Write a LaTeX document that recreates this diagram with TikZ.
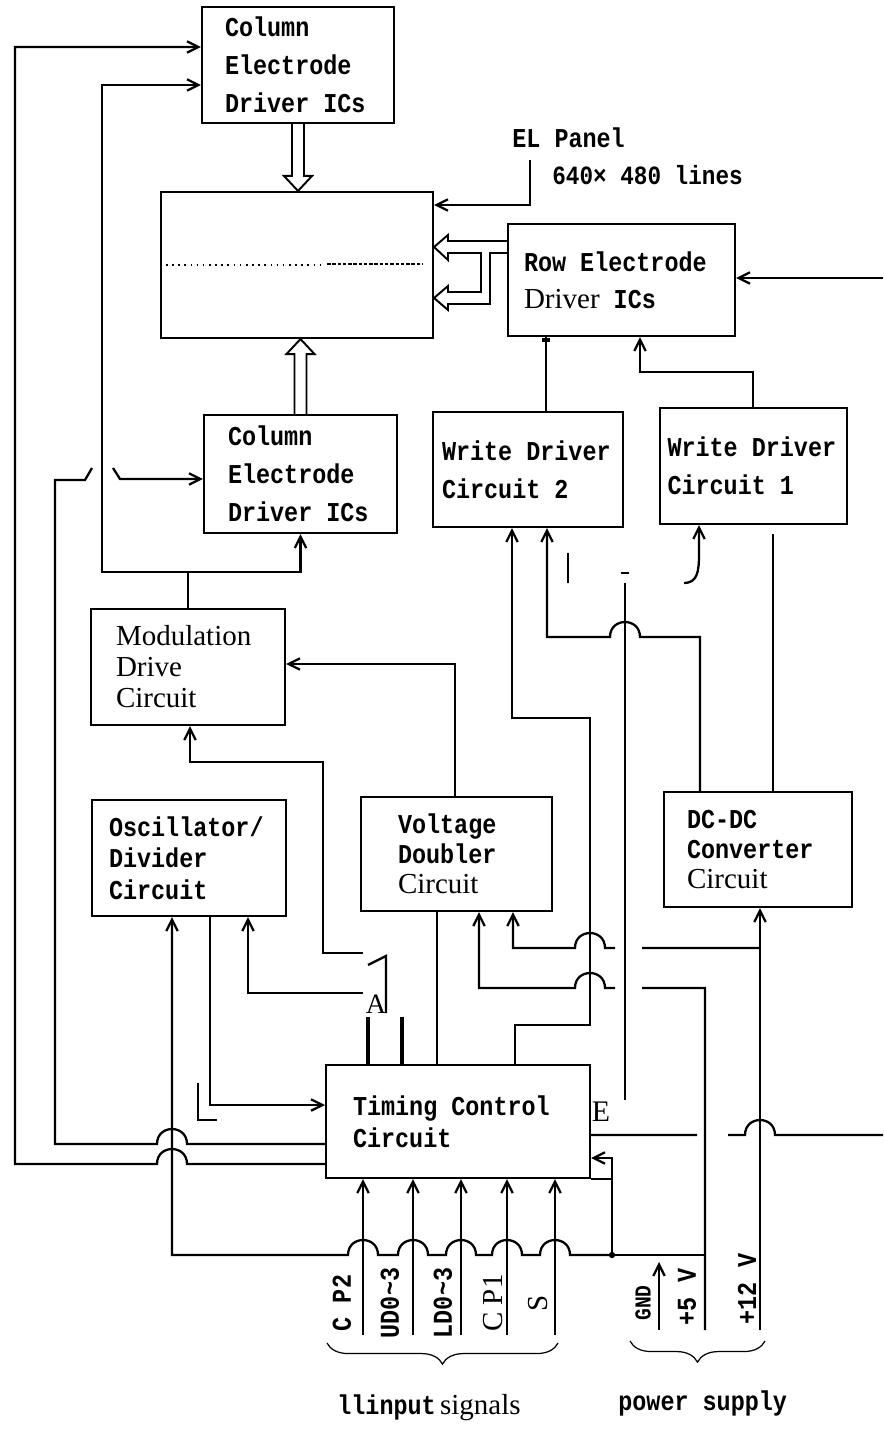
\documentclass[tikz,border=0pt]{standalone}
\usepackage{fontspec}
\setmainfont{Liberation Serif}
\newfontfamily\boxfont{Liberation Mono}[FakeStretch=0.86]
\usetikzlibrary{arrows.meta,calc,decorations.pathreplacing}

\newcommand{\serifpart}{\rmfamily\mdseries\fontsize{16.5}{17.6}\selectfont}
% full-width space of the box font
\newcommand{\msp}{\nobreak\hspace{0.516em}}
% hop over a vertical wire, for a wire running to the left
\newcommand{\hopleft}[2]{-- ({#1+15},#2) .. controls ({#1+15},{#2-20}) and ({#1-15},{#2-20}) .. ({#1-15},#2)}

\begin{document}
\begin{tikzpicture}[x=0.02cm, y=-0.02cm, >={Straight Barb[length=6.5pt,width=6.5pt]},
    box/.style={draw, line width=1.2pt, inner sep=0pt, align=left, font=\boxfont\bfseries\fontsize{15.5}{21.5}\selectfont},
    conn/.style={line width=1.3pt},
    fine/.style={line width=0.7pt},
    stub/.style={line width=2.2pt},
    hollow/.style={line width=1.1pt, line join=miter},
    lbl/.style={font=\boxfont\bfseries\fontsize{15.5}{17}\selectfont, inner sep=0pt}]

\useasboundingbox (0,0) rectangle (883,1429);

% blocks
\node (colT) [box, minimum width=3.84cm, minimum height=2.32cm, text width=2.92cm] at (298,65) {Column\\Electrode\\Driver\msp ICs};
\node (panel) [box, minimum width=5.44cm, minimum height=2.92cm] at (297,265) {};
\node (row) [box, minimum width=4.54cm, minimum height=2.24cm, text width=3.9cm, font=\boxfont\bfseries\fontsize{15.5}{21}\selectfont] at (621.5,280) {Row\msp Electrode\\{\serifpart Driver}\msp ICs};
\node (colB) [box, minimum width=3.86cm, minimum height=2.36cm, text width=2.9cm] at (300.5,474) {Column\\Electrode\\Driver\msp ICs};
\node (wd2) [box, minimum width=3.8cm, minimum height=2.3cm, text width=3.44cm] at (528,469.5) {Write\msp Driver\\Circuit\msp 2};
\node (wd1) [box, minimum width=3.74cm, minimum height=2.32cm, text width=3.44cm] at (753.5,466) {Write\msp Driver\\Circuit\msp 1};
\node (mod) [box, minimum width=3.88cm, minimum height=2.32cm, text width=2.88cm, font=\serifpart] at (188,667) {Modulation\\Drive\\Circuit};
\node (osc) [box, minimum width=3.88cm, minimum height=2.32cm, text width=3.2cm, font=\boxfont\bfseries\fontsize{15.5}{18}\selectfont] at (189,858) {Oscillator/\\Divider\\Circuit};
\node (vd) [box, minimum width=3.82cm, minimum height=2.28cm, text width=2.34cm, font=\boxfont\bfseries\fontsize{15.5}{17}\selectfont] at (456.5,854) {Voltage\\Doubler\\{\serifpart Circuit}};
\node (dc) [box, minimum width=3.76cm, minimum height=2.3cm, text width=2.84cm, font=\boxfont\bfseries\fontsize{15.5}{17}\selectfont] at (758,849.5) {DC-DC\\Converter\\{\serifpart Circuit}};
\node (tim) [box, minimum width=5.28cm, minimum height=2.26cm, text width=4.2cm, font=\boxfont\bfseries\fontsize{15.5}{18}\selectfont] at (458,1121.5) {Timing\msp Control\\Circuit};

% lines on the panel
\draw[line width=0.9pt, dash pattern=on 0.9pt off 2.6pt] (166,265) -- (320,265);
\draw[line width=0.7pt, dash pattern=on 2pt off 1pt] (327,264) -- (423,264);

% panel label
\node (elp) [lbl, anchor=west] at (512,138) {EL Panel};
\node (elsize) [lbl, anchor=west, font=\boxfont\bfseries\fontsize{15}{16}\selectfont] at (552,175) {640× 480 lines};
\coordinate (elpin) at (530,160);
\draw[conn,->] (elpin) -- (530,205) -- (panel.east |- 0,205);

% hollow arrows into the panel
\coordinate (tipT) at (colT.south |- panel.north);
\coordinate (tipB) at (colB.north |- panel.south);
\draw[hollow] ($(colT.south)+(-6,0)$) -- ($(tipT)+(-6,-15)$) -- ($(tipT)+(-14,-15)$) -- (tipT)
    -- ($(tipT)+(14,-15)$) -- ($(tipT)+(6,-15)$) -- ($(colT.south)+(6,0)$);
\draw[hollow] ($(colB.north)+(-6,0)$) -- ($(tipB)+(-6,15)$) -- ($(tipB)+(-14,15)$) -- (tipB)
    -- ($(tipB)+(14,15)$) -- ($(tipB)+(6,15)$) -- ($(colB.north)+(6,0)$);
\draw[hollow] (row.west |- 0,241) -- (448,241) -- (448,235) -- (panel.east |- 0,247) -- (448,260) -- (448,253)
    -- (481,253) -- (481,292) -- (448,292) -- (448,286) -- (panel.east |- 0,298) -- (448,310) -- (448,304)
    -- (490,304) -- (490,253) -- (row.west |- 0,253);

% column driver inputs
\draw[conn,->] (tim.west |- 0,1164) \hopleft{172}{1164} -- (15,1164) -- (15,47) -- (colT.west |- 0,47);
\draw[conn,->] (tim.west |- 0,1144) \hopleft{172}{1144} -- (55,1144) -- (55,480) -- (85,480) -- (92,468)
    (113,468) -- (120,479) -- (colB.west |- 0,479);
\draw[conn] (mod.north) -- (188,572) coordinate (split);
\draw[conn,->] (split) -| (colB.south);
\draw[conn,->] (split) -- (102,572) -- (102,85) -- (colT.west |- 0,85);

% row driver inputs
\coordinate (rin) at (883,278);
\draw[conn,->] (rin) -- (row.east |- rin);
\draw[fine] (wd2.north -| 546,0) -- (row.south -| 546,0);
\draw[line width=2pt] (542,340) -- (550,340);
\draw[conn,->] (wd1.north -| 753,0) -- (753,372) -- (640,372) -- (row.south -| 640,0);

% write driver inputs
\draw[conn,->] (tim.north -| 515,0) -- (515,1025) -- (590,1025) -- (590,718) -- (512,718) -- (wd2.south -| 512,0);
\draw[conn,->] (dc.north -| 700,0) -- (700,637) \hopleft{625}{637} -- (547,637) -- (wd2.south -| 547,0);
\draw[conn] (568,553) -- (568,583);
\draw[conn] (625,583) -- (625,1100);
\draw[conn] (621,573) -- (629,573);
\draw[conn,->] (684,583) .. controls (697,583) and (699,572) .. (699,555) -- (wd1.south -| 699,0);
\draw[conn] (773,534) -- (dc.north -| 773,0);

% modulation and oscillator
\draw[conn,->] (vd.north -| 455,0) -- (455,664) -- (mod.east |- 0,664);
\draw[conn,->] (363,953) -- (323,953) -- (323,762) -- (190,762) -- (mod.south -| 190,0);
\draw[conn,->] (363,993) -- (248,993) -- (osc.south -| 248,0);
\draw[conn,->] (osc.south -| 210,0) -- (210,1105) -- (tim.west |- 0,1105);
\draw[conn] (198,1083) -- (198,1120) -- (217,1120);
\draw[conn] (368,965) -- (386,956) -- (386,1013);
\node (lblA) [inner sep=0pt, font=\fontsize{16}{16}\selectfont] at (376,1004) {A};
\foreach \x in {368,402}
    \draw[stub] (\x,1017) -- (tim.north -| \x,0);
\draw[conn] (vd.south -| 437,0) -- (tim.north -| 437,0);

% supply wiring
\coordinate (gnd) at (612,1255);
\coordinate (gndin) at (659,1330);
\coordinate (p5) at (705,1330);
\coordinate (p12) at (760,1330);
\coordinate (tout) at (883,1135);
\draw[conn,->] (gnd) \hopleft{555}{1255} \hopleft{507}{1255} \hopleft{461}{1255} \hopleft{413}{1255} \hopleft{363}{1255}
    -- (172,1255) -- (osc.south -| 172,0);
\draw[conn] (gnd) -- (p5 |- gnd);
\draw[conn,->] (gnd) -- (612,1158) -- (tim.east |- 0,1158);
\draw[conn] (tim.south east) -- (tim.south east -| gnd);
\fill (gnd) circle (1.8pt);
\draw[conn,->] (gndin) -- (659,1262);
\draw[conn,->] (p5) -- (705,988) -- (642,988) (615,988) \hopleft{590}{988} -- (479,988) -- (vd.south -| 479,0);
\draw[conn,->] (p12) -- (dc.south -| p12);
\draw[conn,->] (760,948) -- (642,948) (615,948) \hopleft{590}{948} -- (513,948) -- (vd.south -| 513,0);
\draw[conn] (tout) \hopleft{760}{1135} -- (728,1135) (697,1135) -- (tim.east |- tout);
\node (lblE) [inner sep=0pt, font=\fontsize{17}{17}\selectfont] at (601,1112) {E};

% input signals
\foreach \x/\t/\n/\lx in {363/{C P2}/cp2/342, 413/{UD0\textasciitilde3}/ud/390, 461/{LD0\textasciitilde3}/ld/443,
        507/{\serifpart C P1}/cp1/493, 555/{\serifpart S}/sin/538} {
    \coordinate (\n-in) at (\x,1335);
    \draw[conn,->] (\n-in) -- (tim.south -| \n-in);
    \node (\n) [lbl, rotate=90] at (\lx,1303) {\t};
}
\node (gndl) [lbl, rotate=90, font=\boxfont\bfseries\fontsize{13}{14}\selectfont] at (643,1303) {GND};
\node (p5l) [lbl, rotate=90] at (687,1297) {+5 V};
\node (p12l) [lbl, rotate=90] at (747,1289) {+12 V};

% braces
\draw[fine, decorate, decoration={brace, mirror, amplitude=12pt}] (327,1343) -- (558,1343);
\draw[fine, decorate, decoration={brace, mirror, amplitude=12pt}] (630,1341) -- (765,1341);
\node (insig) [anchor=west, inner sep=0pt] at (337,1408) {{\boxfont\bfseries\fontsize{15.5}{17}\selectfont llinput} {\serifpart signals}};
\node (pwr) [lbl, anchor=west] at (618,1403) {power supply};
\end{tikzpicture}
\end{document}
